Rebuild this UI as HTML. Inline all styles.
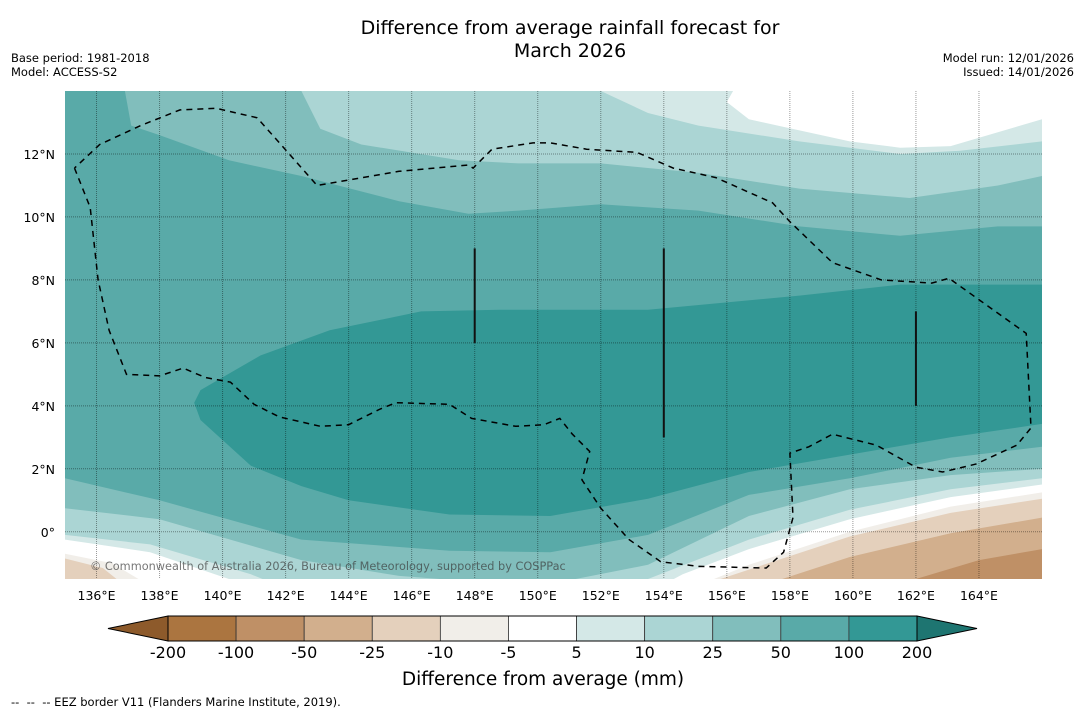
<!DOCTYPE html>
<html><head><meta charset="utf-8">
<style>
html,body{margin:0;padding:0;background:#fff;}
svg{display:block;font-family:"DejaVu Sans","Liberation Sans",sans-serif;}
</style></head>
<body>
<svg id="chart" width="1085" height="713" viewBox="0 0 1085 713" xmlns="http://www.w3.org/2000/svg">
<defs><clipPath id="mapclip"><rect x="65" y="91" width="977" height="488"/></clipPath></defs>
<rect width="1085" height="713" fill="#fff"/>
<text x="570" y="34" font-size="19" text-anchor="middle" fill="#000">Difference from average rainfall forecast for</text>
<text x="570" y="57" font-size="19" text-anchor="middle" fill="#000">March 2026</text>
<text x="11" y="62" font-size="11.5">Base period: 1981-2018</text>
<text x="11" y="76" font-size="11.5">Model: ACCESS-S2</text>
<text x="1074" y="62" font-size="11.5" text-anchor="end">Model run: 12/01/2026</text>
<text x="1074" y="76" font-size="11.5" text-anchor="end">Issued: 14/01/2026</text>
<g id="map" clip-path="url(#mapclip)"></g>
<g id="axes"></g>
<g id="cbar"></g>
<text x="543" y="685" font-size="18.5" text-anchor="middle">Difference from average (mm)</text>
<text x="11" y="706" font-size="11.5" xml:space="preserve">--  --  -- EEZ border V11 (Flanders Marine Institute, 2019).</text>
</svg>
<script>
const lonTicks=[136,138,140,142,144,146,148,150,152,154,156,158,160,162,164];
const latTicks=[0,2,4,6,8,10,12];
const cbarLevels=[-200,-100,-50,-25,-10,-5,5,10,25,50,100,200];
const cbarColors=["#ab7540","#bf9066","#d2af8d","#e4d0bc","#f1eee9","#ffffff","#d4e8e7","#abd5d4","#81bebc","#59aaa8","#339895"];
const cbarUnder="#8d5a2b", cbarOver="#1e7571";
const top50=[[136.9,14],[137.1,12.9],[138,12.6],[140.2,11.8],[142.5,11.3],[145.6,10.5],[147.8,10.1],[149.4,10.2],[152,10.4],[155.1,10.2],[158.3,9.7],[161.5,9.4],[164.6,9.7],[166,9.7]];
const top25=[[142.5,14],[143.1,12.8],[144.4,12.3],[147.5,11.8],[149.4,11.7],[152,11.7],[155.1,11.4],[158.3,10.9],[161.8,10.6],[164.6,11],[166,11.3]];
const top10=[[152,14],[153.5,13.3],[155.1,12.9],[158.3,12.4],[161.5,12],[163.4,12.1],[166,12.4]];
const top5=[[156.2,14],[156,13.65],[156.7,13.1],[159.9,12.4],[161.5,12.2],[163.1,12.25],[166,13.1]];
const bot50=[[135,1.7],[138,1],[142.5,-0.25],[147.2,-0.6],[150.4,-0.65],[153.5,-0.1],[156.7,1.17],[159.9,1.7],[163.1,2.35],[166,2.7]];
const bot25=[[135,0.75],[138,0.4],[142.5,-0.9],[145.6,-1.4],[148.2,-1.6],[150.7,-1.6],[153.5,-1.05],[156.7,0.5],[159.9,1.35],[163.1,1.8],[166,2]];
const bot10=[[135,-0.1],[137.7,-0.4],[140.9,-1.35],[142.5,-2],[150,-2.2],[153.5,-1.5],[156.7,-0.25],[159.9,0.7],[163.1,1.35],[166,1.7]];
const bot5=[[135,-0.25],[137.7,-0.65],[140.2,-1.5],[141.2,-2.2],[153,-2.2],[154.6,-1.35],[156.7,-0.55],[159.9,0.4],[163.1,1.1],[166,1.5]];
const botM5=[[135,-0.7],[136.5,-1.0],[138,-1.9],[154,-2.2],[155.1,-1.7],[156.7,-1.05],[159.9,0],[163.1,0.8],[166,1.25]];
const botM10=[[135,-0.85],[136.2,-1.15],[137.2,-1.95],[154.5,-2.2],[155.8,-1.5],[156.7,-1.2],[159.9,-0.15],[163.1,0.6],[166,1.05]];
const botM25=[[156.5,-2.2],[157.6,-1.55],[159.9,-0.8],[163.1,-0.05],[166,0.45]];
const botM50=[[161.2,-2.2],[162,-1.5],[164,-0.9],[166,-0.55]];
const core100=[[139.1,4.1],[139.3,4.5],[141.2,5.6],[143.4,6.4],[146.3,7],[148.8,7.05],[153.5,7.05],[158.3,7.5],[161.5,7.85],[166.5,7.85],[166.5,3.5],[163.1,3.0],[159.9,2.45],[156.7,1.9],[153.5,1.05],[150.4,0.5],[147.2,0.55],[144,1.0],[142.5,1.45],[140.9,2.1],[139.3,3.55]];
const eez=[[135.3,11.55],[135.8,10.3],[136.05,8],[136.4,6.4],[136.95,5],[138,4.95],[138.75,5.2],[139.45,4.9],[140.25,4.75],[141,4.05],[141.8,3.65],[143.1,3.35],[144,3.4],[145,3.9],[145.5,4.1],[147.2,4.05],[147.9,3.6],[149.3,3.35],[150.2,3.4],[150.7,3.6],[151.1,3.1],[151.65,2.55],[151.4,1.65],[152,0.75],[152.9,-0.25],[153.9,-0.95],[155.1,-1.1],[157.25,-1.15],[157.8,-0.65],[158.1,0.45],[158,2.5],[158.6,2.7],[159.35,3.1],[160.75,2.75],[162,2.05],[162.85,1.9],[163.9,2.15],[165.2,2.75],[165.65,3.3],[165.5,6.3],[163.05,8.05],[162.5,7.9],[160.9,8],[159.35,8.55],[158,9.85],[157.45,10.45],[155.65,11.25],[154.3,11.55],[153.15,12.05],[151.55,12.15],[150.4,12.35],[149.85,12.35],[148.55,12.15],[147.95,11.55],[147.8,11.65],[145.6,11.45],[143,11],[141.1,13.15],[139.8,13.45],[138.65,13.4],[137.4,12.9],[136.1,12.3],[135.3,11.55]];
const boundaryLines=[[148,9,6],[154,9,3],[162,7,4]];

const NS="http://www.w3.org/2000/svg";
const X0=65,X1=1042,Y0=91,Y1=579,LON0=135,LON1=166,LAT0=14,LAT1=-1.5;
function xs(lon){return X0+(lon-LON0)/(LON1-LON0)*(X1-X0);}
function ys(lat){return Y0+(LAT0-lat)/(LAT0-LAT1)*(Y1-Y0);}
function el(tag,attrs,parent){const e=document.createElementNS(NS,tag);for(const k in attrs)e.setAttribute(k,attrs[k]);parent.appendChild(e);return e;}
function pathOf(pts){return pts.map((p,i)=>(i?'L':'M')+xs(p[0]).toFixed(1)+','+ys(p[1]).toFixed(1)).join(' ');}
const map=document.getElementById('map');
const bg=el('rect',{x:X0,y:Y0,width:X1-X0,height:Y1-Y0,fill:cbarColors[9]},map);


function fillAbove(c,col,name){const pts=c.concat([[c[c.length-1][0]+0.5,c[c.length-1][1]],[c[c.length-1][0]+0.5,16],[c[0][0],16]]);const p=el('path',{d:pathOf(pts)+'Z',fill:col},map);

}
function fillBelow(c,col,name){const pts=c.concat([[c[c.length-1][0]+0.5,c[c.length-1][1]],[c[c.length-1][0]+0.5,-4],[c[0][0]-0.5,-4],[c[0][0]-0.5,c[0][1]]]);const p=el('path',{d:pathOf(pts)+'Z',fill:col},map);

}
fillAbove(top50,cbarColors[8],'band-25-50-north');
fillAbove(top25,cbarColors[7],'band-10-25-north');
fillAbove(top10,cbarColors[6],'band-5-10-north');
fillAbove(top5,cbarColors[5],'band-near-average-north');
fillBelow(bot50,cbarColors[8],'band-25-50-south');
fillBelow(bot25,cbarColors[7],'band-10-25-south');
fillBelow(bot10,cbarColors[6],'band-5-10-south');
fillBelow(bot5,cbarColors[5],'band-near-average-south');
fillBelow(botM5,cbarColors[4],'band-minus-5-10');
fillBelow(botM10,cbarColors[3],'band-minus-10-25');
fillBelow(botM25,cbarColors[2],'band-minus-25-50');
fillBelow(botM50,cbarColors[1],'band-minus-50-100');
const core=el('path',{d:pathOf(core100)+'Z',fill:cbarColors[10]},map);


lonTicks.forEach(l=>{const g=el('line',{x1:xs(l),x2:xs(l),y1:Y0,y2:Y1,stroke:'rgba(0,0,0,0.4)','stroke-width':1,'stroke-dasharray':'1 1'},map);

});
latTicks.forEach(l=>{const g=el('line',{x1:X0,x2:X1,y1:ys(l),y2:ys(l),stroke:'rgba(0,0,0,0.4)','stroke-width':1,'stroke-dasharray':'1 1'},map);

});
const ez=el('path',{d:pathOf(eez),fill:'none',stroke:'#000','stroke-width':1.5,'stroke-dasharray':'6 5'},map);


boundaryLines.forEach(b=>{const l=el('line',{x1:xs(b[0]),x2:xs(b[0]),y1:ys(b[1]),y2:ys(b[2]),stroke:'#111','stroke-width':2},map);

});
const cp=el('text',{x:90,y:570,'font-size':11.3,fill:'rgba(60,60,60,0.7)'},map);
cp.textContent='© Commonwealth of Australia 2026, Bureau of Meteorology, supported by COSPPac';


const ax=document.getElementById('axes');
lonTicks.forEach(l=>{const t=el('text',{x:xs(l),y:600,'font-size':12.5,'text-anchor':'middle'},ax);t.textContent=l+'°E';

});
latTicks.forEach(l=>{const t=el('text',{x:55,y:ys(l)+5,'font-size':12.5,'text-anchor':'end'},ax);t.textContent=l===0?'0°':l+'°N';

});
const cb=document.getElementById('cbar');
const CX0=168,CX1=917,CY0=616,CY1=641,n=cbarColors.length,w=(CX1-CX0)/n;
const ua=el('polygon',{points:`${CX0},${CY0} ${CX0},${CY1} 108,${(CY0+CY1)/2}`,fill:cbarUnder,stroke:'#000','stroke-width':1},cb);


const oa=el('polygon',{points:`${CX1},${CY0} ${CX1},${CY1} 977,${(CY0+CY1)/2}`,fill:cbarOver,stroke:'#000','stroke-width':1},cb);


cbarColors.forEach((c,i)=>{const r=el('rect',{x:CX0+i*w,y:CY0,width:w,height:CY1-CY0,fill:c,stroke:'#333','stroke-width':0.8},cb);

});
el('rect',{x:CX0,y:CY0,width:CX1-CX0,height:CY1-CY0,fill:'none',stroke:'#000','stroke-width':1},cb);
cbarLevels.forEach((v,i)=>{const t=el('text',{x:CX0+i*w,y:658,'font-size':16,'text-anchor':'middle'},cb);t.textContent=v;

});
</script>
</body></html>
